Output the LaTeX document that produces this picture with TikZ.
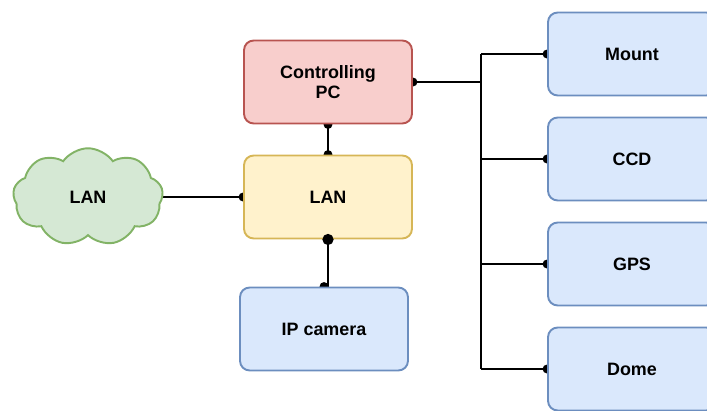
\documentclass[tikz,border=0pt]{standalone}
\usepackage{fontspec}
\setmainfont{Liberation Sans}
\usetikzlibrary{arrows.meta,positioning,shapes.symbols,backgrounds}
\definecolor{redfill}{HTML}{F8CECC}
\definecolor{reddraw}{HTML}{B85450}
\definecolor{yellowfill}{HTML}{FFF2CC}
\definecolor{yellowdraw}{HTML}{D6B656}
\definecolor{bluefill}{HTML}{DAE8FC}
\definecolor{bluedraw}{HTML}{6C8EBF}
\definecolor{greenfill}{HTML}{D5E8D4}
\definecolor{greendraw}{HTML}{82B366}
\tikzset{
  box/.style={draw=bluedraw,fill=bluefill,line width=1.1pt,rounded corners=5.5pt,minimum width=3.36cm,minimum height=1.66cm,align=center,font=\fontsize{10.2}{11.8}\selectfont\bfseries},
  pcbox/.style={box,draw=reddraw,fill=redfill},
  lanbox/.style={box,draw=yellowdraw,fill=yellowfill},
  net/.style={cloud,cloud puffs=9,cloud puff arc=110,aspect=1.6,draw=greendraw,fill=greenfill,line width=1.1pt,minimum width=3.0cm,minimum height=1.95cm,font=\fontsize{10.2}{11.8}\selectfont\bfseries},
  link/.style={draw=black,line width=1.2pt},
  dotA/.style={{Circle[length=5pt]}-,shorten <=-2.5pt},
  dotB/.style={-{Circle[length=5pt]},shorten >=-2.5pt},
  dotAB/.style={{Circle[length=5pt]}-{Circle[length=5pt]},shorten <=-2.5pt,shorten >=-2.5pt}
}
\begin{document}
\begin{tikzpicture}[x=0.02cm,y=-0.02cm]
\useasboundingbox (0,0) rectangle (707,410);
% centre column
\node[pcbox] (pc) at (328,82) {Controlling\\PC};
\node[lanbox] (lan) at (328,197) {LAN};
\node[box] (cam) at (324,329) {IP camera};
\node[net] (cloud) at (88,197) {LAN};
% devices on the right
\foreach \y/\lab/\name in {54/Mount/mount,159/CCD/ccd,264/GPS/gps,369/Dome/dome} {
 \node[box] (\name) at (632,\y) {\lab};
}
\coordinate (busT) at (481,82);
\begin{scope}[on background layer]
\draw[link,dotA] (pc.east) -- (busT);
\draw[link] (busT |- mount.west) -- (busT |- dome.west);
\foreach \name in {mount,ccd,gps,dome} {
 \draw[link,dotB] (busT |- \name.west) -- (\name.west);
}
\draw[link,dotAB] (pc.south) -- (lan.north);
\draw[link,dotB] (cloud.east |- lan.west) -- (lan.west);
\draw[link,dotB] (lan.south) -- (lan.south |- cam.north) -- (cam.north);
\end{scope}
\fill (lan.south) circle (3.2pt);
\end{tikzpicture}
\end{document}
